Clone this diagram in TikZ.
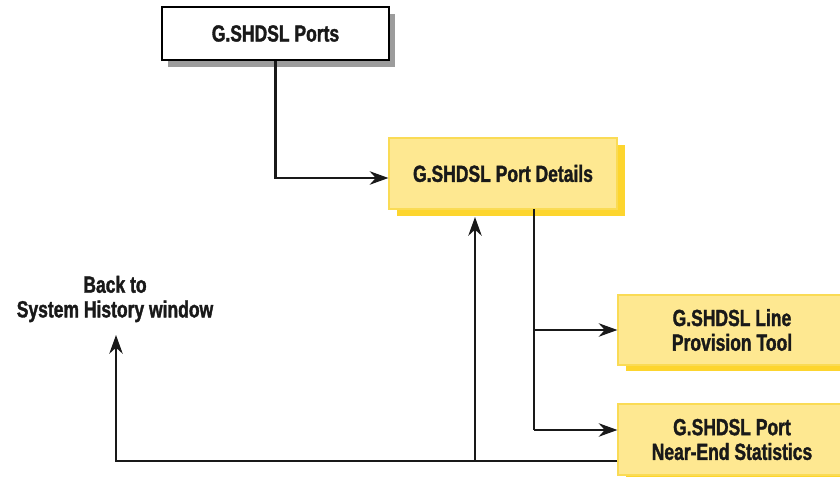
\documentclass[tikz,border=0pt]{standalone}
\usepackage{fontspec}
\setmainfont{Liberation Sans}[FakeStretch=0.75, FakeBold=1.5]
\usetikzlibrary{arrows.meta}
\definecolor{yfill}{HTML}{FEE891}
\definecolor{yedge}{HTML}{FADB55}
\definecolor{yshadow}{HTML}{FDD52E}
\definecolor{gshadow}{HTML}{9C9C9C}
\tikzset{
  boxtext/.style={font=\bfseries\fontsize{17.5}{18.5}\selectfont, align=center, text=black!90},
  whitebox/.style={boxtext, draw=black, line width=0.8pt, fill=white, minimum width=227*0.75pt, minimum height=53*0.75pt, inner sep=0pt},
  yellowbox/.style={boxtext, draw=yedge, line width=0.8pt, fill=yfill, minimum width=228*0.75pt, minimum height=71*0.75pt, inner sep=0pt},
  conn/.style={line width=2.1pt, black!90},
  arr/.style={conn, -{Stealth[length=14pt, width=10pt, inset=4.5pt]}},
}
\begin{document}
\begin{tikzpicture}[x=0.75pt, y=-0.75pt]
\clip (0,0) rectangle (840,477);
\useasboundingbox (0,0) rectangle (840,477);
% shadows
\fill[gshadow] (168,14) rectangle (395,67);
\fill[yshadow] (397,145) rectangle (625,216);
\fill[yshadow] (626,301) rectangle (854,371);
\fill[yshadow] (626,411) rectangle (854,482);
% boxes
\node[whitebox] (ports) at (275.5,33.5) {G.SHDSL Ports};
\node[yellowbox] (details) at (503,173.5) {G.SHDSL Port Details};
\node[yellowbox, minimum height=70*0.75pt] (prov) at (732,330) {G.SHDSL Line\\Provision Tool};
\node[yellowbox] (near) at (732,439.5) {G.SHDSL Port\\Near-End Statistics};
\node[boxtext] (back) at (115,299) {Back to\\System History window};
% coordinates
\coordinate (dsplit) at (534,209.4);
\coordinate (b1) at (534,330);
\coordinate (b2) at (534,430);
\coordinate (leftc) at (116,461);
\coordinate (midc) at (475,461);
\coordinate (backtip) at (116,335);
\coordinate (uptip) at (475,217);
% connectors
\draw[arr] (ports.south) |- (details.west |- 0,178);
\draw[conn] (dsplit) -- (b2);
\draw[arr] (b1) -- (prov.west |- b1);
\draw[arr] (b2) -- (near.west |- b2);
\draw[arr] (near.west |- leftc) -- (leftc) -- (backtip);
\draw[arr] (midc) -- (uptip);
\end{tikzpicture}
\end{document}
